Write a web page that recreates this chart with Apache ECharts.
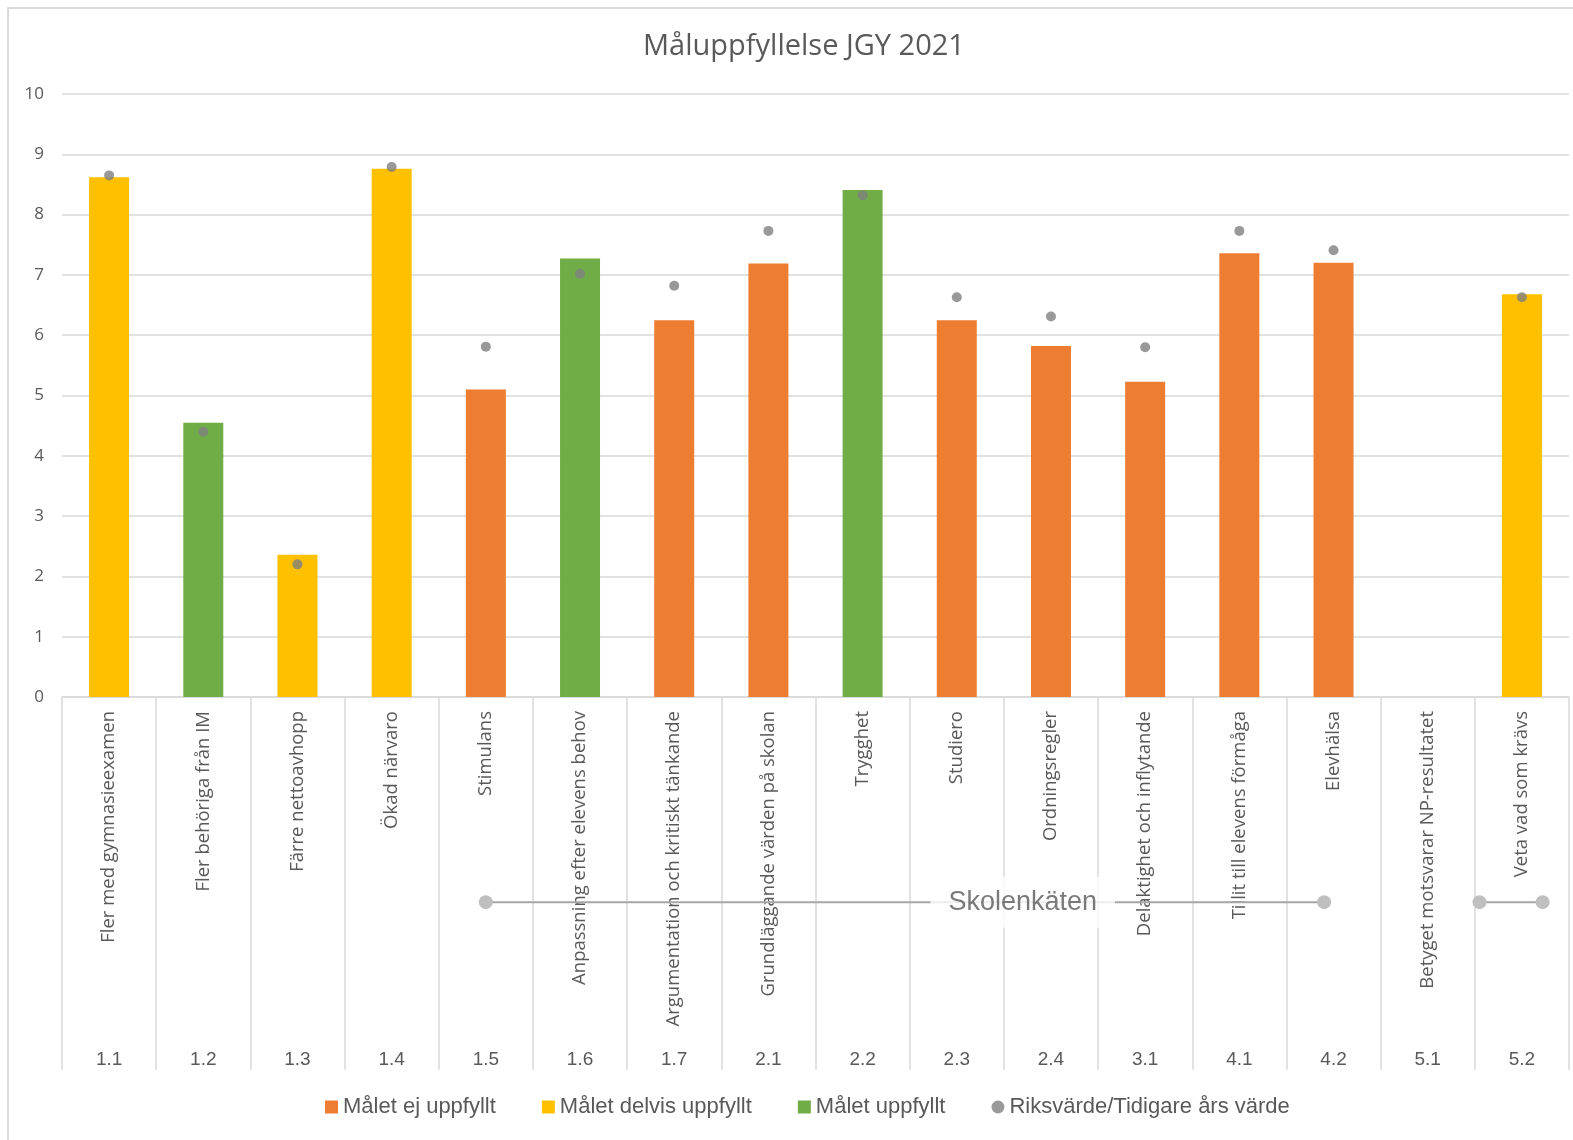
<!DOCTYPE html>
<html>
<head>
<meta charset="utf-8">
<title>Måluppfyllelse JGY 2021</title>
<script src="https://cdn.jsdelivr.net/npm/echarts@6/dist/echarts.min.js"></script>
<style>
  html, body { margin: 0; padding: 0; background: #fff; }
  #chart { width: 1573px; height: 1140px; }
</style>
</head>
<body>
<div id="chart"></div>
<script>
// kategorier (nivå 1 och nivå 2)
const names = [
  'Fler med gymnasieexamen', 'Fler behöriga från IM', 'Färre nettoavhopp', 'Ökad närvaro',
  'Stimulans', 'Anpassning efter elevens behov', 'Argumentation och kritiskt tänkande',
  'Grundläggande värden på skolan', 'Trygghet', 'Studiero', 'Ordningsregler',
  'Delaktighet och inflytande', 'Tillit till elevens förmåga', 'Elevhälsa',
  'Betyget motsvarar NP-resultatet', 'Veta vad som krävs'
]
const codes = ['1.1', '1.2', '1.3', '1.4', '1.5', '1.6', '1.7', '2.1', '2.2', '2.3', '2.4', '3.1', '4.1', '4.2', '5.1', '5.2']

// värden per måluppfyllelse
const ejUppfyllt =     [null, null, null, null, 5.10, null, 6.25, 7.19, null, 6.25, 5.82, 5.23, 7.36, 7.20, null, null]
const delvisUppfyllt = [8.62, null, 2.36, 8.76, null, null, null, null, null, null, null, null, null, null, null, 6.68]
const uppfyllt =       [null, 4.55, null, null, null, 7.27, null, null, 8.41, null, null, null, null, null, null, null]
const riksvarde =      [8.65, 4.40, 2.20, 8.79, 5.81, 7.02, 6.82, 7.73, 8.32, 6.63, 6.31, 5.80, 7.73, 7.41, null, 6.63]

const yTicks = { min: 0, max: 10, interval: 1 }

const chartInstance = echarts.init(document.getElementById('chart'))

const textColor = '#595959'
const lineColor = '#d9d9d9'
const narrowFont = "'Liberation Sans Narrow', 'Liberation Sans', sans-serif"

// Skolenkäten-klammern under axeln, i kategori-index
const skolFrom = codes.indexOf('1.5')
const skolTo = codes.indexOf('4.2')
const skolY = 0.45
const skolMid = 9.7
const lastIdx = codes.indexOf('5.2')

const option = {
  backgroundColor: '#fff',
  textStyle: { fontFamily: "'Open Sans', sans-serif" },
  graphic: [{
    type: 'rect',
    shape: { x: 8, y: 8, width: 1600, height: 1200 },
    style: { fill: 'none', stroke: lineColor, lineWidth: 2 },
    silent: true
  }],
  title: {
    text: 'Måluppfyllelse JGY 2021',
    left: 638,
    top: 27,
    textStyle: { fontSize: 29, fontWeight: 'normal', color: textColor }
  },
  legend: {
    bottom: 17,
    left: 320,
    itemWidth: 13,
    itemHeight: 13,
    itemGap: 46,
    textStyle: { fontSize: 22, color: textColor, fontFamily: narrowFont },
    data: [
      { name: 'Målet ej uppfyllt', icon: 'rect' },
      { name: 'Målet delvis uppfyllt', icon: 'rect' },
      { name: 'Målet uppfyllt', icon: 'rect' },
      { name: 'Riksvärde/Tidigare års värde', icon: 'circle' }
    ]
  },
  grid: [
    { left: 62, right: 4, top: 94, height: 603 },
    { left: 62, right: 4, top: 697, height: 373 }
  ],
  xAxis: [
    {
      type: 'category',
      gridIndex: 0,
      data: names,
      axisLine: { lineStyle: { color: lineColor, width: 1.5 } },
      axisTick: { show: true, length: 373, lineStyle: { color: lineColor, width: 1.5 } },
      axisLabel: { rotate: 90, interval: 0, fontSize: 18.5, color: textColor, margin: 14 }
    },
    {
      type: 'category',
      gridIndex: 1,
      data: codes,
      axisLine: { show: false },
      axisTick: { show: false },
      axisLabel: { inside: true, interval: 0, fontSize: 19, color: textColor, margin: 1, fontFamily: narrowFont }
    },
    {
      type: 'value',
      gridIndex: 1,
      min: -0.5,
      max: codes.length - 0.5,
      show: false
    }
  ],
  yAxis: [
    {
      type: 'value',
      gridIndex: 0,
      min: yTicks.min,
      max: yTicks.max,
      interval: yTicks.interval,
      axisLine: { show: false },
      axisTick: { show: false },
      splitLine: { lineStyle: { color: lineColor, width: 1.5 } },
      axisLabel: { fontSize: 17, color: textColor, margin: 18 }
    },
    { type: 'value', gridIndex: 1, min: 0, max: 1, show: false }
  ],
  series: [
    {
      name: 'Målet ej uppfyllt', type: 'bar', stack: 'mal', barWidth: 40,
      itemStyle: { color: '#ED7D31' }, data: ejUppfyllt
    },
    {
      name: 'Målet delvis uppfyllt', type: 'bar', stack: 'mal', barWidth: 40,
      itemStyle: { color: '#FFC000' }, data: delvisUppfyllt
    },
    {
      name: 'Målet uppfyllt', type: 'bar', stack: 'mal', barWidth: 40,
      itemStyle: { color: '#70AD47' }, data: uppfyllt
    },
    {
      name: 'Riksvärde/Tidigare års värde', type: 'scatter', symbolSize: 10, z: 5,
      itemStyle: { color: '#7F7F7F' }, data: riksvarde
    },
    // Skolenkäten-klammer
    {
      type: 'line', xAxisIndex: 2, yAxisIndex: 1, silent: true,
      symbol: 'circle', symbolSize: 14,
      itemStyle: { color: '#bfbfbf' },
      lineStyle: { color: '#a6a6a6', width: 2 },
      data: [[skolFrom, skolY], [skolTo - 0.1, skolY]]
    },
    {
      type: 'line', xAxisIndex: 2, yAxisIndex: 1, silent: true,
      symbol: 'circle', symbolSize: 14,
      itemStyle: { color: '#bfbfbf' },
      lineStyle: { color: '#a6a6a6', width: 2 },
      data: [[lastIdx - 0.45, skolY], [lastIdx + 0.22, skolY]]
    },
    {
      type: 'scatter', xAxisIndex: 2, yAxisIndex: 1, silent: true, symbolSize: 0, z: 10,
      label: {
        show: true, position: 'inside', formatter: 'Skolenkäten',
        fontSize: 27, color: textColor, fontFamily: narrowFont,
        backgroundColor: '#fff', padding: [12, 18]
      },
      data: [[skolMid, skolY]]
    }
  ]
}
chartInstance.setOption(option)
</script>
</body>
</html>
